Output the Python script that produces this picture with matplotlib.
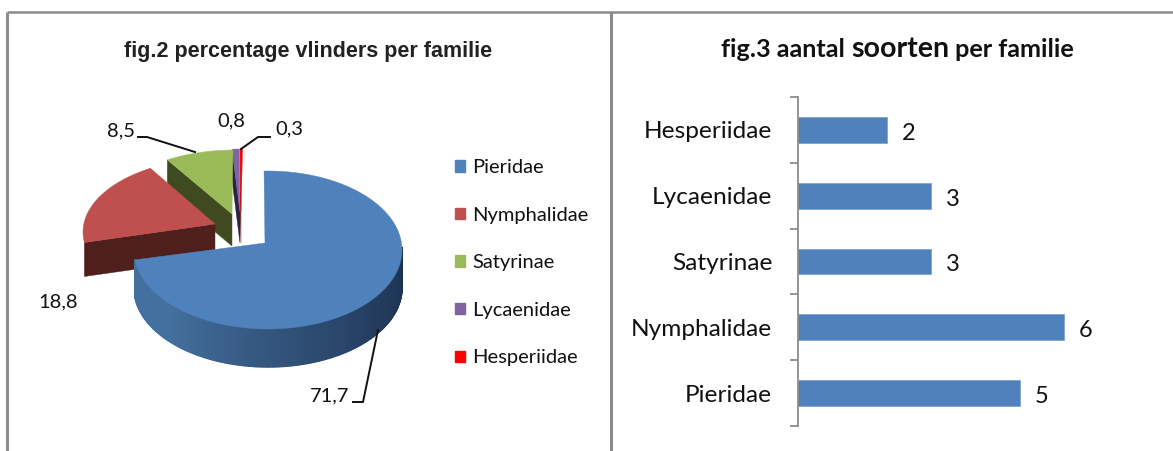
import numpy as np
import matplotlib
matplotlib.use("Agg")
import matplotlib.pyplot as plt
from matplotlib.patches import Polygon, Patch
from matplotlib.collections import PolyCollection
from matplotlib.colors import to_rgb

families = ["Pieridae", "Nymphalidae", "Satyrinae", "Lycaenidae", "Hesperiidae"]
percentages = [71.7, 18.8, 8.5, 0.8, 0.3]
percentage_labels = ["71,7", "18,8", "8,5", "0,8", "0,3"]
species_counts = [5, 6, 3, 3, 2]

W, H = 1173, 451
BODY = "Lato"
PIE_COLORS = ["#4f81bd", "#c0504d", "#9bbb59", "#8064a2", "#ff0000"]
SIDE_COLORS = ["#2b4a73", "#4f1f1d", "#3f4a20", "#2c2244", "#7a1010"]
# explosion layout for each slice: ellipse centre, apex, radii, depth, angle skews
CENTERS = [(268, 250), (220, 232), (234, 228), (241.5, 227), (242.5, 227)]
APEXES = [(265, 243), (215, 224), (232, 214), (240, 212), (241, 212)]
RADII = [(134, 79), (137, 74), (137, 78), (137, 78), (137, 78)]
DEPTHS = [38, 34, 32, 31, 31]
START_SKEW = [-1.7, 4, 5.4, 0, 0]
END_SKEW = [5, 4, 3.5, 0, 0]


def arc(i, a0, a1, n=120):
    t = np.radians(np.linspace(a0, a1, n))
    cx, cy = CENTERS[i]
    rx, ry = RADII[i]
    return np.column_stack([cx + rx * np.sin(t), cy - ry * np.cos(t)])


fig = plt.figure(figsize=(W / 100, H / 100), dpi=100)
ax = fig.add_axes([0, 0, 1, 1])
ax.set_xlim(0, W)
ax.set_ylim(H, 0)
ax.axis("off")

# panel frame
ax.plot([7, 7], [H, 12], color="#8c8c8c", lw=2.2, solid_capstyle="butt")
ax.plot([7, W], [12, 12], color="#8c8c8c", lw=1.8, solid_capstyle="butt")
ax.plot([610.5, 610.5], [H, 12], color="#8c8c8c", lw=2.2, solid_capstyle="butt")

# pie angles from the values
bounds = np.concatenate([[0], np.cumsum(percentages)]) / sum(percentages) * 360
for z, i in enumerate([4, 3, 2, 1, 0]):
    a0 = bounds[i] + START_SKEW[i]
    a1 = bounds[i + 1] + END_SKEW[i]
    pts = arc(i, a0, a1)
    apex = np.array(APEXES[i], dtype=float)
    d = DEPTHS[i]
    base_z = 2 + z * 3
    if i == 0:
        # rim with a dark gradient, right to left
        rim = arc(i, 88, a1, 170)
        dark = np.array(to_rgb("#1d3150"))
        light = np.array(to_rgb("#44709f"))
        quads, cols = [], []
        for k in range(len(rim) - 1):
            p, q = rim[k], rim[k + 1]
            quads.append([p, q, q + [0, d], p + [0, d]])
            f = min(1, k / (len(rim) - 2) * 1.25) ** 1.3
            cols.append(dark + (light - dark) * f)
        ax.add_collection(PolyCollection(quads, facecolors=cols, edgecolors=cols, lw=1.0, zorder=base_z))
    else:
        # cut face at the start of the slice
        s = pts[0]
        face = [apex, s, s + [0, d], apex + [0, d]]
        ax.add_patch(Polygon(face, closed=True, fc=SIDE_COLORS[i], ec=SIDE_COLORS[i], lw=0.3, zorder=base_z))
    top = np.vstack([apex, pts])
    ax.add_patch(Polygon(top, closed=True, fc=PIE_COLORS[i], ec=PIE_COLORS[i], lw=0.3, zorder=base_z + 1))

# leader lines
leaders = [
    [(353, 402), (363, 402), (378, 330)],
    [(138, 137), (147, 137), (195, 152)],
    [(270, 137), (258, 137), (241, 149)],
]
for line in leaders:
    xs, ys = zip(*line)
    ax.plot(xs, ys, color="#111111", lw=1.4, zorder=30)

label_pos = [(330, 396), (58, 302), (121, 131), (231, 121), (289, 129)]
for txt, (x, y) in zip(percentage_labels, label_pos):
    ax.text(x, y, txt, ha="center", va="center", fontsize=14.5, family=BODY, color="#111111", zorder=31)

handles = [Patch(fc=c, ec=c) for c in PIE_COLORS]
ax.legend(handles, families, loc="upper left", bbox_to_anchor=(449 / W, 1 - 153 / H), frameon=False,
          prop={"family": BODY, "size": 14.5}, labelcolor="#111111", handlelength=0.5, handleheight=0.5,
          handletextpad=0.35, labelspacing=1.52, borderpad=0.3, borderaxespad=0)

ax.text(308, 52, "fig.2 percentage vlinders per familie", ha="center", va="center", fontsize=15.5,
        family="Liberation Sans", weight="bold", color="#222222")

# right title, the middle word is set larger
fig.canvas.draw()
rend = fig.canvas.get_renderer()
x = 721
for part, size in [("fig.3 aantal ", 18.2), ("soorten", 20.6), (" per familie", 18.2)]:
    t = ax.text(x, 57, part.replace(" ", "\u00a0"), ha="left", va="baseline", fontsize=size,
                family=BODY, weight="bold", color="#111111")
    x = t.get_window_extent(rend).x1

# bar panel
x0, x1 = 798, 1150
top, bottom = 97, 426
bx = fig.add_axes([x0 / W, 1 - bottom / H, (x1 - x0) / W, (bottom - top) / H])
bx.patch.set_alpha(0)
y = np.arange(len(families))
bx.barh(y, species_counts, height=0.395, color="#4f81bd", edgecolor="#7fa3d1", linewidth=0.6)
bx.set_xlim(0, (x1 - x0) / 44.3)
bx.set_ylim(-0.5, 4.5)
bx.set_yticks(np.arange(-0.5, 5))
bx.set_yticklabels([])
bx.set_yticks(y, labels=families, minor=True)
bx.tick_params(axis="y", which="major", length=5.8, width=1.3, color="#8c8c8c", labelleft=False)
bx.tick_params(axis="y", which="minor", length=0, pad=18.5, labelsize=17.6, labelcolor="#111111")
for lab in bx.get_yticklabels(minor=True):
    lab.set_family(BODY)
bx.set_xticks([])
for side in ["top", "right", "bottom"]:
    bx.spines[side].set_visible(False)
bx.spines["left"].set_color("#8c8c8c")
bx.spines["left"].set_linewidth(1.3)
for yi, v in zip(y, species_counts):
    bx.annotate(str(v), (v, yi), xytext=(16, -2.5), textcoords="offset points", ha="center", va="center",
                fontsize=17, family=BODY, color="#111111")

fig.savefig("out.png", dpi=100)
